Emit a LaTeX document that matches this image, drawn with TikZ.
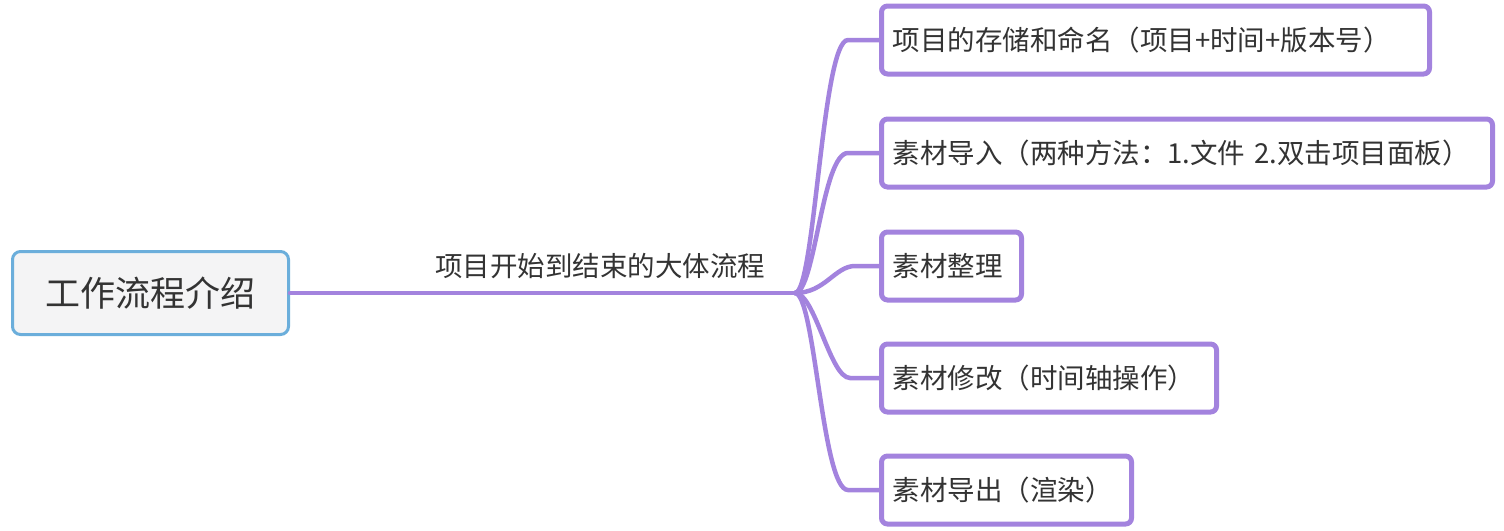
\documentclass[tikz,border=0pt]{standalone}
\usepackage{fontspec}
\setmainfont{Noto Sans CJK SC}
\definecolor{purp}{HTML}{A383DE}
\definecolor{rootb}{HTML}{6BAEDB}
\definecolor{rootf}{HTML}{F4F4F5}
\definecolor{textc}{HTML}{333333}
\begin{document}
\begin{tikzpicture}[x=1pt,y=-1pt,
  rootbox/.style={draw=rootb, line width=3pt, rounded corners=8pt, fill=rootf, minimum width=276pt, minimum height=83pt, inner sep=0pt, text=textc, font=\fontsize{35}{40}\selectfont},
  childbox/.style={draw=purp, line width=5pt, rounded corners=6pt, fill=white, anchor=west, minimum height=68pt, inner xsep=11pt, inner ysep=0pt, text=textc, font=\fontsize{27.5}{30}\selectfont, align=left},
  conn/.style={draw=purp, line width=4.5pt, line cap=round},
  lbl/.style={text=textc, font=\fontsize{27.5}{30}\selectfont, inner sep=0pt}]
\useasboundingbox (0,0) rectangle (1504,530);
\node[rootbox] (root) at (150.5,293) {工作流程介绍};
\coordinate (j) at (795,293);
\node[childbox, text width=526pt] (c1) at (879,40) {项目的存储和命名（项目+时间+版本号）};
\node[childbox, text width=589pt] (c2) at (879,153) {素材导入（两种方法：1.文件 2.双击项目面板）};
\node[childbox, text width=118pt] (c3) at (879,266) {素材整理};
\node[childbox, text width=313pt] (c4) at (879,378) {素材修改（时间轴操作）};
\node[childbox, text width=228pt] (c5) at (879,490) {素材导出（渲染）};
\draw[conn] (root.east) -- (j);
\node[lbl] (l) at (600,266) {项目开始到结束的大体流程};
\draw[conn] (j) .. controls (815,293) and (822,40) .. (848,40) -- (c1.west);
\draw[conn] (j) .. controls (815,293) and (822,153) .. (848,153) -- (c2.west);
\draw[conn] (j) .. controls (825,293) and (835,266) .. (855,266) -- (c3.west);
\draw[conn] (j) .. controls (815,293) and (830,378) .. (850,378) -- (c4.west);
\draw[conn] (j) .. controls (815,293) and (822,490) .. (848,490) -- (c5.west);
\end{tikzpicture}
\end{document}
